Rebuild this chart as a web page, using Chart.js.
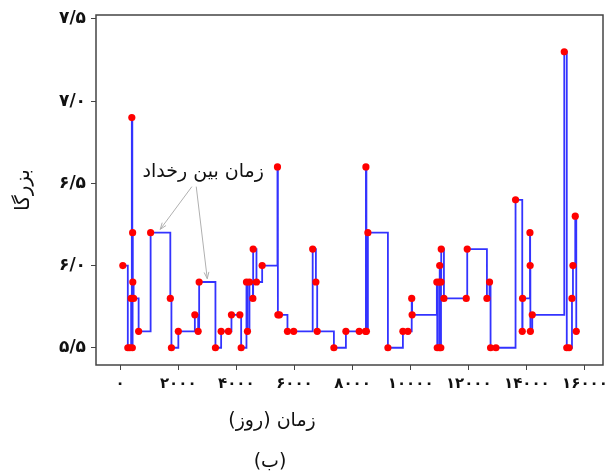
<!DOCTYPE html>
<html>
<head>
<meta charset="utf-8">
<script src="https://cdn.jsdelivr.net/npm/chart.js@4.4.0/dist/chart.umd.min.js"></script>
<style>
  html, body { margin: 0; padding: 0; background: #fff; }
  #wrap { width: 607px; height: 472px; }
</style>
</head>
<body>
<div id="wrap"><canvas id="quakeChart" width="607" height="472"></canvas></div>
<script>
// زمان رخداد (روز) و بزرگا
const days = [
  93, 265, 334, 379, 403, 420, 430, 437, 465, 637,
  1050, 1728, 1766, 2004, 2572, 2686, 2720, 3281, 3477, 3729,
  3832, 4121, 4166, 4349, 4383, 4452, 4569, 4579, 4693, 4889,
  5416, 5430, 5485, 5760, 5974, 6628, 6738, 6783, 7358, 7771,
  8229, 8446, 8460, 8477, 8528, 9217, 9733, 9906, 10036, 10050,
  10901, 10915, 10983, 10994, 11000, 11038, 11045, 11052, 11145, 11913,
  11947, 12625, 12715, 12750, 12935, 13610, 13841, 13851, 14106, 14113,
  14120, 14185, 15287, 15373, 15452, 15552, 15586, 15665, 15700
];
const magnitudes = [
  6.0, 5.5, 5.5, 5.8, 6.9, 5.5, 6.2, 5.9, 5.8, 5.6,
  6.2, 5.8, 5.5, 5.6, 5.7, 5.6, 5.9, 5.5, 5.6, 5.6,
  5.7, 5.7, 5.5, 5.9, 5.6, 5.9, 5.8, 6.1, 5.9, 6.0,
  6.6, 5.7, 5.7, 5.6, 5.6, 6.1, 5.9, 5.6, 5.5, 5.6,
  5.6, 5.6, 6.6, 5.6, 6.2, 5.5, 5.6, 5.6, 5.8, 5.7,
  5.9, 5.5, 5.9, 5.5, 6.0, 5.5, 5.9, 6.1, 5.8, 5.8,
  6.1, 5.8, 5.9, 5.5, 5.5, 6.4, 5.6, 5.8, 6.2, 6.0,
  5.6, 5.7, 7.3, 5.5, 5.5, 5.8, 6.0, 6.3, 5.6
];
const xTicks = [0, 2000, 4000, 6000, 8000, 10000, 12000, 14000, 16000];
const yTicks = [5.5, 6.0, 6.5, 7.0, 7.5];

const xTitle = "زمان (روز)";
const yTitle = "بزرگا";
const caption = "(ب)";
const noteText = "زمان بین رخداد";
// نوشته و دو پیکان (به واحد داده)
const notePos = { x: 2860, y: 6.57 };
const arrows = [
  { from: { x: 2470, y: 6.48 }, to: { x: 1380, y: 6.22 } },
  { from: { x: 2620, y: 6.48 }, to: { x: 3000, y: 5.92 } },
];

const toFa = (s) => String(s).replace(/[0-9]/g, (d) => "۰۱۲۳۴۵۶۷۸۹"[d]);
const faFont = "'DejaVu Sans', sans-serif";

const points = days.map((d, i) => ({ x: d, y: magnitudes[i] }));

const drawArrow = (ctx, x1, y1, x2, y2) => {
  ctx.beginPath();
  ctx.moveTo(x1, y1);
  ctx.lineTo(x2, y2);
  const ang = Math.atan2(y2 - y1, x2 - x1);
  const len = 7;
  ctx.moveTo(x2 - len * Math.cos(ang - 0.35), y2 - len * Math.sin(ang - 0.35));
  ctx.lineTo(x2, y2);
  ctx.lineTo(x2 - len * Math.cos(ang + 0.35), y2 - len * Math.sin(ang + 0.35));
  ctx.stroke();
};

const decorPlugin = {
  id: "decor",
  afterDraw(chart) {
    const { ctx, chartArea: a, scales } = chart;
    const sx = scales.x, sy = scales.y;
    ctx.save();
    // قاب
    ctx.strokeStyle = "#444";
    ctx.lineWidth = 1.5;
    ctx.strokeRect(a.left, a.top, a.right - a.left, a.bottom - a.top);

    // پیکان ها
    ctx.strokeStyle = "#b0b0b0";
    ctx.lineWidth = 1;
    arrows.forEach((ar) => {
      drawArrow(ctx,
        sx.getPixelForValue(ar.from.x), sy.getPixelForValue(ar.from.y),
        sx.getPixelForValue(ar.to.x), sy.getPixelForValue(ar.to.y));
    });

    ctx.fillStyle = "#111";
    ctx.direction = "rtl";
    ctx.textAlign = "center";
    ctx.textBaseline = "middle";
    ctx.font = "19px " + faFont;
    ctx.fillText(noteText, sx.getPixelForValue(notePos.x), sy.getPixelForValue(notePos.y));

    ctx.font = "19px " + faFont;
    ctx.fillText(xTitle, 272, 421);
    ctx.fillText(caption, 270, 462);

    ctx.font = "20px " + faFont;
    ctx.translate(24, 190);
    ctx.rotate(-Math.PI / 2);
    ctx.fillText(yTitle, 0, 0);
    ctx.restore();
  },
};

new Chart(document.getElementById("quakeChart"), {
  type: "scatter",
  data: {
    datasets: [{
      data: points,
      showLine: true,
      stepped: "before",
      borderColor: "rgba(0, 0, 255, 0.8)",
      borderWidth: 1.8,
      pointRadius: 3.6,
      pointBackgroundColor: "#ff0000",
      pointBorderWidth: 0,
      pointHoverRadius: 3.6,
    }],
  },
  options: {
    responsive: false,
    animation: false,
    devicePixelRatio: 1,
    layout: { padding: { top: 15, right: 4, left: 0, bottom: 0 } },
    plugins: {
      legend: { display: false },
      tooltip: { enabled: false },
    },
    scales: {
      x: {
        type: "linear",
        min: -830,
        max: 16620,
        afterBuildTicks: (scale) => { scale.ticks = xTicks.map((v) => ({ value: v })); },
        afterFit: (scale) => {
          scale.height = 107;
          scale.paddingLeft = 0;
          scale.paddingRight = 0;
        },
        border: { display: false },
        grid: { display: true, drawOnChartArea: false, drawTicks: true, tickLength: 5, color: "#444" },
        ticks: {
          color: "#111",
          padding: 5,
          maxRotation: 0,
          font: { family: faFont, size: 15, weight: "bold" },
          callback: (v) => toFa(v),
        },
      },
      y: {
        type: "linear",
        min: 5.395,
        max: 7.524,
        afterBuildTicks: (scale) => { scale.ticks = yTicks.map((v) => ({ value: v })); },
        afterFit: (scale) => {
          scale.width = 96;
          scale.paddingTop = 0;
          scale.paddingBottom = 0;
        },
        border: { display: false },
        grid: { display: true, drawOnChartArea: false, drawTicks: true, tickLength: 5, color: "#444" },
        ticks: {
          color: "#111",
          padding: 5,
          font: { family: faFont, size: 17, weight: "bold" },
          callback: (v) => toFa(v.toFixed(1).replace(".", "/")),
        },
      },
    },
  },
  plugins: [decorPlugin],
});
</script>
</body>
</html>
